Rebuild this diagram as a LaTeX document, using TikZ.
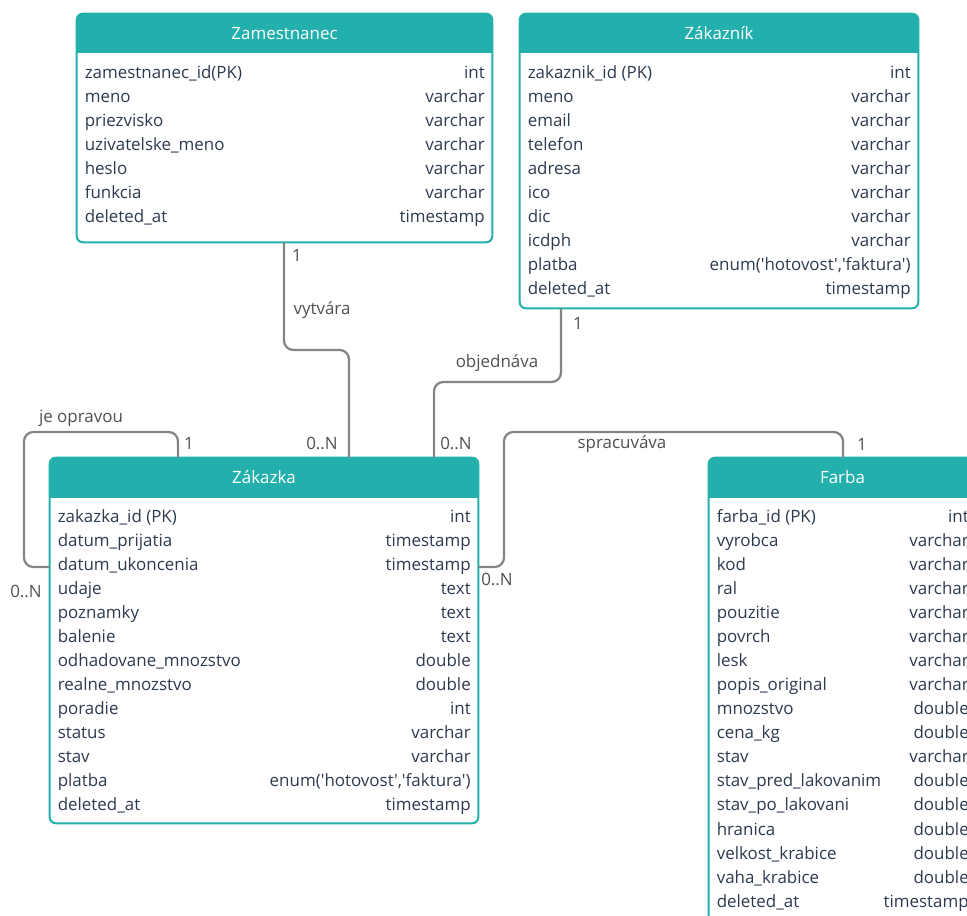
\documentclass[tikz,border=0pt]{standalone}
\usepackage{fontspec}
\setmainfont[Ligatures=TeXOff]{Open Sans}
\usetikzlibrary{fit,calc}
\definecolor{teal1}{HTML}{23B0AD}
\definecolor{txt}{HTML}{2D3B4F}
\definecolor{lnk}{HTML}{848484}
\definecolor{lbltxt}{HTML}{505050}
\tikzset{
  fieldtxt/.style={inner sep=0pt, text=txt, text height=0.74em, text depth=0.2em, font=\fontsize{12.7}{15}\selectfont},
  hdrtxt/.style={inner sep=0pt, text=white, font=\fontsize{12.7}{15}\selectfont},
  lbl/.style={inner sep=0pt, text=lbltxt, font=\fontsize{12.7}{15}\selectfont},
  link/.style={draw=lnk, line width=1.7pt, rounded corners=7pt},
  tblbody/.style={inner sep=0pt, fill=white, rounded corners=4.5pt},
  tblborder/.style={draw=teal1, line width=1.5pt, rounded corners=4.5pt}
}
\newcommand\ertable[7]{%
  \node[tblbody, fit={(#2,#3)(#4,#5)}] (#1) {};
  \begin{scope}
    \clip (#2-3,#3-3) rectangle (#4+3,#3+39);
    \fill[teal1, rounded corners=4.5pt] (#2,#3) rectangle (#4,#5);
  \end{scope}
  \draw[tblborder] (#1.north west) rectangle (#1.south east);
  \node[hdrtxt] (#1-h) at ({(#2+#4)/2},{#3+19.5}) {#6};
  \foreach \fa/\ty [count=\i] in {#7} {
    \node[fieldtxt, anchor=west] (#1-f\i) at ({#2+7.5},{#3+60.5+(\i-1)*24.07}) {\fa};
    \node[fieldtxt, anchor=east] (#1-t\i) at ({#4-7},{#3+60.5+(\i-1)*24.07}) {\ty};
  }
}
\begin{document}
\begin{tikzpicture}[x=0.75pt,y=-0.75pt]
\useasboundingbox (0,0) rectangle (967,916);
\clip (0,0) rectangle (967,916);

\ertable{zam}{77}{14}{492}{242}{Zamestnanec}{zamestnanec\_id(PK)/int, meno/varchar, priezvisko/varchar, uzivatelske\_meno/varchar, heslo/varchar, funkcia/varchar, deleted\_at/timestamp}

\ertable{zkn}{520}{14}{918}{308}{Zákazník}{zakaznik\_id (PK)/int, meno/varchar, email/varchar, telefon/varchar, adresa/varchar, ico/varchar, dic/varchar, icdph/varchar, platba/{enum('hotovost','faktura')}, deleted\_at/timestamp}

\ertable{zka}{50}{458}{478}{823}{Zákazka}{zakazka\_id (PK)/int, datum\_prijatia/timestamp, datum\_ukoncenia/timestamp, udaje/text, poznamky/text, balenie/text, odhadovane\_mnozstvo/double, realne\_mnozstvo/double, poradie/int, status/varchar, stav/varchar, platba/{enum('hotovost','faktura')}, deleted\_at/timestamp}

\ertable{far}{709}{458}{976}{960}{Farba}{farba\_id (PK)/int, vyrobca/varchar, kod/varchar, ral/varchar, pouzitie/varchar, povrch/varchar, lesk/varchar, popis\_original/varchar, mnozstvo/double, cena\_kg/double, stav/varchar, stav\_pred\_lakovanim/double, stav\_po\_lakovani/double, hranica/double, velkost\_krabice/double, vaha\_krabice/double, deleted\_at/timestamp}

% bend points
\coordinate (v1) at (284,350);
\coordinate (v2) at (349,350);
\coordinate (o1) at (561,382);
\coordinate (o2) at (434,382);
\coordinate (s1) at (504,567);
\coordinate (s2) at (504,432);
\coordinate (s3) at (843,432);
\coordinate (j0) at (178,432);
\coordinate (j1) at (24,432);
\coordinate (j2) at (24,567);

% connectors
\draw[link] (zam.south -| v1) -- (v1) -- (v2) -- (zka.north -| v2);
\draw[link] (zkn.south -| o1) -- (o1) -- (o2) -- (zka.north -| o2);
\draw[link] (zka.east |- s1) -- (s1) -- (s2) -- (s3) -- (far.north -| s3);
\draw[link] (zka.north -| j0) -- (j0) -- (j1) -- (j2) -- (zka.west |- j2);

% labels
\node[lbl] (l-vyt) at (322,310) {vytvára};
\node[lbl] (l-vyt1) at (297,255) {1};
\node[lbl] (l-vytn) at (322,443) {0..N};
\node[lbl] (l-obj) at (497,363) {objednáva};
\node[lbl] (l-obj1) at (578,323) {1};
\node[lbl] (l-objn) at (456,443) {0..N};
\node[lbl] (l-spr) at (622,444) {spracuváva};
\node[lbl] (l-spr1) at (862,444) {1};
\node[lbl] (l-sprn) at (497,579) {0..N};
\node[lbl] (l-jeo) at (81,418) {je opravou};
\node[lbl] (l-jeo1) at (189,443) {1};
\node[lbl] (l-jeon) at (26,591) {0..N};
\end{tikzpicture}
\end{document}
